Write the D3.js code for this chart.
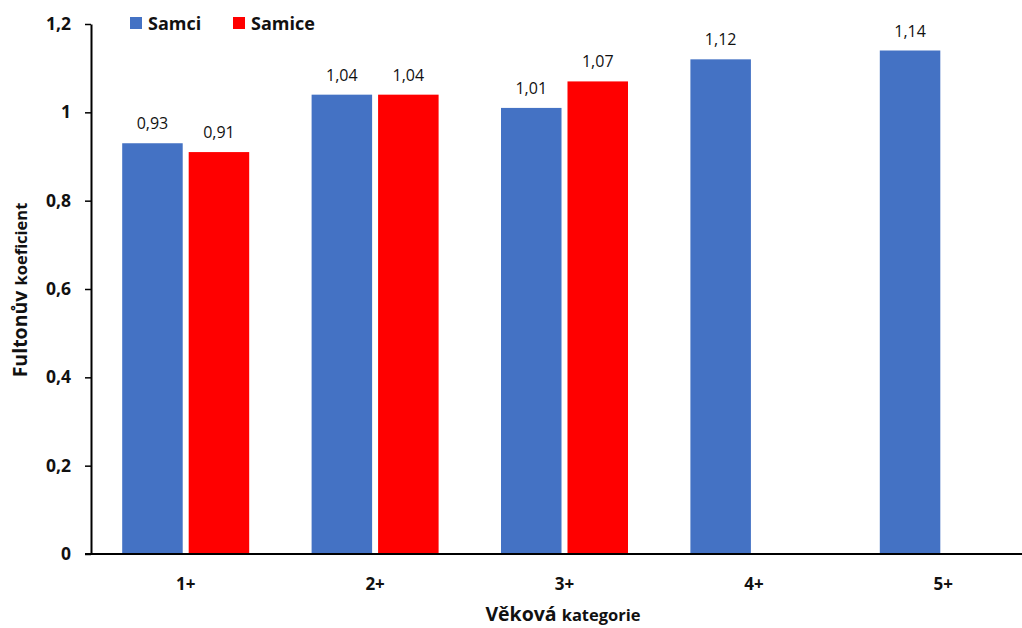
<!DOCTYPE html>
<html><head><meta charset="utf-8">
<script src="https://cdn.jsdelivr.net/npm/d3@7"></script>
<style>body{margin:0;background:#fff}svg{display:block}text{font-family:"Open Sans","Noto Sans",sans-serif}</style>
</head><body>
<svg id="c" width="1022" height="628"></svg>
<script>
const categories = ["1+","2+","3+","4+","5+"];
const seriesNames = ["Samci","Samice"];
const samci = [0.93,1.04,1.01,1.12,1.14];
const samice = [0.91,1.04,1.07,null,null];
const yTicks = [0,0.2,0.4,0.6,0.8,1,1.2];
const colors = ["#4472C4","#FF0000"];

const svg = d3.select("#c");
const fmt = v => String(v).replace(".", ",");
const x = d3.scaleBand().domain(categories).range([91,1038]).paddingInner(0).paddingOuter(0);
const x1 = d3.scaleBand().domain(seriesNames).range([0, 127]).paddingInner(0.09);
const y = d3.scaleLinear().domain([0,1.2]).range([554,24]);

const series = [samci, samice];
series.forEach((vals, si) => {
  const g = svg.append("g");
  categories.forEach((c, i) => {
    const v = vals[i];
    if (v == null) return;
    const bx = x(c) + x.bandwidth()/2 - 63.5 + x1(seriesNames[si]);
    g.append("rect").attr("x", bx).attr("y", y(v)).attr("width", x1.bandwidth()).attr("height", y(0)-y(v))
      .attr("fill", colors[si]);
    g.append("text").attr("x", bx + x1.bandwidth()/2).attr("y", y(v)-14).attr("text-anchor","middle")
      .attr("font-size", 16).attr("fill","#111").text(fmt(v));
  });
});

// y axis
const ya = svg.append("g").attr("transform","translate(91,0)")
  .call(d3.axisLeft(y).tickValues(yTicks).tickFormat(fmt).tickSize(6).tickSizeOuter(0));
ya.select(".domain").attr("stroke","#000").attr("stroke-width",2);
ya.selectAll(".tick line").attr("stroke","#000").attr("stroke-width",1.5);
ya.selectAll(".tick text").attr("font-size",17.5).attr("font-weight","bold").attr("fill","#111")
  .attr("font-family","'Open Sans',sans-serif").attr("x",-20);

// x axis
const xa = svg.append("g").attr("transform","translate(0,554)")
  .call(d3.axisBottom(x).tickSize(0).tickSizeOuter(0));
xa.select(".domain").attr("stroke","#000").attr("stroke-width",2).attr("d","M85,0H1022");
xa.selectAll(".tick text").attr("font-size",17).attr("font-weight","bold").attr("fill","#111")
  .attr("font-family","'Open Sans',sans-serif").attr("y",24);

// axis titles
const xt = svg.append("text").attr("x",563).attr("y",621).attr("text-anchor","middle").attr("font-weight","bold").attr("fill","#111");
xt.append("tspan").attr("font-size",19.5).text("Věková ");
xt.append("tspan").attr("font-size",16.5).text("kategorie");
const yt = svg.append("text").attr("transform","translate(27,290) rotate(-90)").attr("text-anchor","middle").attr("font-weight","bold").attr("fill","#111");
yt.append("tspan").attr("font-size",19.5).text("Fultonův ");
yt.append("tspan").attr("font-size",16.5).text("koeficient");

// legend
const legX = [130, 233];
seriesNames.forEach((n, i) => {
  svg.append("rect").attr("x", legX[i]).attr("y", 17).attr("width", 12).attr("height", 12).attr("fill", colors[i]);
  svg.append("text").attr("x", legX[i]+18).attr("y", 29.5).attr("font-size", 18).attr("font-weight","bold").attr("fill","#111").text(n);
});
</script>
</body></html>
